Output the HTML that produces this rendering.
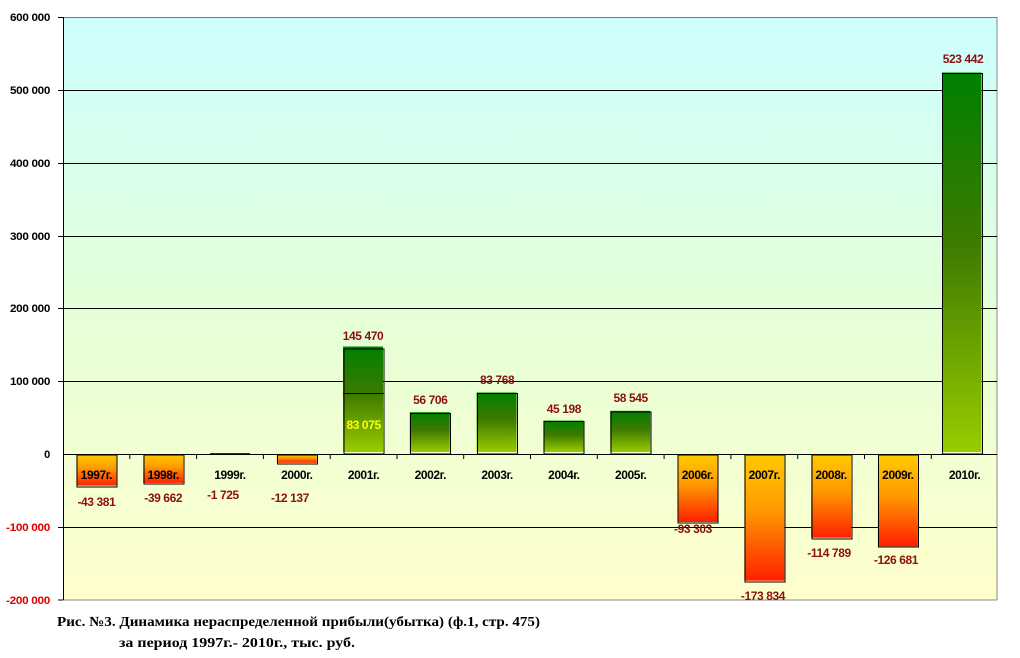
<!DOCTYPE html>
<html><head><meta charset="utf-8"><style>
body{margin:0;background:#fff;width:1020px;height:658px;overflow:hidden}
svg{display:block}
.t{font-family:"Liberation Sans",sans-serif;font-weight:bold;font-size:12px;letter-spacing:-0.4px}
.yr{fill:#000;text-anchor:middle}
.v{fill:#8b1010;text-anchor:middle}
.ax{font-family:"Liberation Sans",sans-serif;font-weight:bold;font-size:11px;text-anchor:end;letter-spacing:-0.3px}
.cap{font-family:"Liberation Serif",serif;font-weight:bold;font-size:14px;fill:#000}
</style></head><body>
<svg width="1020" height="658" xmlns="http://www.w3.org/2000/svg">
<defs>
<linearGradient id="bg" x1="0" y1="0" x2="0" y2="1">
<stop offset="0" stop-color="#ccffff"/><stop offset="0.5" stop-color="#e4ffd8"/><stop offset="1" stop-color="#ffffcc"/>
</linearGradient>
<linearGradient id="gr" x1="0" y1="0" x2="0" y2="1">
<stop offset="0" stop-color="#008000"/><stop offset="0.45" stop-color="#3d7a00"/><stop offset="1" stop-color="#99cc00"/>
</linearGradient>
<linearGradient id="rd" x1="0" y1="0" x2="0" y2="1">
<stop offset="0" stop-color="#ffcc00"/><stop offset="0.45" stop-color="#ff9900"/><stop offset="1" stop-color="#ff2000"/>
</linearGradient>
</defs>
<rect x="63" y="17" width="934" height="583" fill="url(#bg)"/>
<line x1="997" y1="17" x2="997" y2="600" stroke="#888" stroke-width="1"/>
<line x1="63" y1="17.5" x2="997" y2="17.5" stroke="#777" stroke-width="1"/>
<line x1="63" y1="600" x2="997" y2="600" stroke="#888" stroke-width="1"/>
<g stroke="#000" stroke-width="1">
<line x1="58" y1="90.5" x2="997" y2="90.5"/>
<line x1="58" y1="163.5" x2="997" y2="163.5"/>
<line x1="58" y1="236.5" x2="997" y2="236.5"/>
<line x1="58" y1="308.5" x2="997" y2="308.5"/>
<line x1="58" y1="381.5" x2="997" y2="381.5"/>
<line x1="58" y1="527.5" x2="997" y2="527.5"/>
<line x1="58" y1="17.5" x2="63" y2="17.5"/>
<line x1="58" y1="600" x2="63" y2="600"/>
<line x1="63.5" y1="17" x2="63.5" y2="600"/>
</g>
<g class="ax">
<text x="50" y="21" fill="#000" textLength="40" lengthAdjust="spacingAndGlyphs">600 000</text>
<text x="50" y="94" fill="#000" textLength="40" lengthAdjust="spacingAndGlyphs">500 000</text>
<text x="50" y="167" fill="#000" textLength="40" lengthAdjust="spacingAndGlyphs">400 000</text>
<text x="50" y="240" fill="#000" textLength="40" lengthAdjust="spacingAndGlyphs">300 000</text>
<text x="50" y="312" fill="#000" textLength="40" lengthAdjust="spacingAndGlyphs">200 000</text>
<text x="50" y="385" fill="#000" textLength="40" lengthAdjust="spacingAndGlyphs">100 000</text>
<text x="50" y="458" fill="#000">0</text>
<text x="50" y="531" fill="#e00000" textLength="44" lengthAdjust="spacingAndGlyphs">-100 000</text>
<text x="50" y="604" fill="#e00000" textLength="44" lengthAdjust="spacingAndGlyphs">-200 000</text>
</g>
<g>
<rect x="76.4" y="454" width="40" height="31.6" fill="url(#rd)"/><rect x="77" y="455" width="40" height="32" fill="none" stroke="#000"/>
<rect x="143.2" y="454" width="40" height="28.9" fill="url(#rd)"/><rect x="144" y="455" width="40" height="29" fill="none" stroke="#000"/>
<rect x="210" y="453" width="40" height="2" fill="#333"/>
<rect x="276.8" y="454" width="40" height="8.8" fill="url(#rd)"/><rect x="277.5" y="455" width="40" height="9" fill="none" stroke="#000"/>
<rect x="677.5" y="454" width="40" height="68" fill="url(#rd)"/><rect x="678" y="455" width="40" height="68" fill="none" stroke="#000"/>
<rect x="744.3" y="454" width="40" height="126.7" fill="url(#rd)"/><rect x="745" y="455" width="40" height="127" fill="none" stroke="#000"/>
<rect x="811.1" y="454" width="40" height="83.7" fill="url(#rd)"/><rect x="812" y="455" width="40" height="84" fill="none" stroke="#000"/>
<rect x="877.9" y="454" width="40" height="92.3" fill="url(#rd)"/><rect x="878.5" y="455" width="40" height="92" fill="none" stroke="#000"/>
</g>
<g>
<rect x="343" y="346.5" width="40" height="105.5" fill="url(#gr)"/><rect x="344" y="349" width="40" height="105" fill="none" stroke="#000"/>
<line x1="343" y1="393.5" x2="384" y2="393.5" stroke="#000"/>
<rect x="409.8" y="412.2" width="40" height="39.8" fill="url(#gr)"/><rect x="410.5" y="413.5" width="40" height="40.5" fill="none" stroke="#000"/>
<rect x="476.6" y="392.5" width="40" height="59.5" fill="url(#gr)"/><rect x="477.5" y="393.5" width="40" height="60.5" fill="none" stroke="#000"/>
<rect x="543.4" y="420.6" width="40" height="31.4" fill="url(#gr)"/><rect x="544" y="421.5" width="40" height="32.5" fill="none" stroke="#000"/>
<rect x="610.2" y="410.8" width="40" height="41.2" fill="url(#gr)"/><rect x="611" y="412" width="40" height="42" fill="none" stroke="#000"/>
<rect x="942" y="72.5" width="39.5" height="379.5" fill="url(#gr)"/><rect x="942.5" y="73.5" width="40" height="380.5" fill="none" stroke="#000"/>
</g>
<line x1="63" y1="454.5" x2="997" y2="454.5" stroke="#000" stroke-width="1"/>
<g stroke="#000">
<line x1="129.8" y1="454" x2="129.8" y2="459"/><line x1="196.6" y1="454" x2="196.6" y2="459"/><line x1="263.4" y1="454" x2="263.4" y2="459"/><line x1="330.2" y1="454" x2="330.2" y2="459"/><line x1="397" y1="454" x2="397" y2="459"/><line x1="463.7" y1="454" x2="463.7" y2="459"/><line x1="530.5" y1="454" x2="530.5" y2="459"/><line x1="597.3" y1="454" x2="597.3" y2="459"/><line x1="664.1" y1="454" x2="664.1" y2="459"/><line x1="730.9" y1="454" x2="730.9" y2="459"/><line x1="797.7" y1="454" x2="797.7" y2="459"/><line x1="864.5" y1="454" x2="864.5" y2="459"/><line x1="931.3" y1="454" x2="931.3" y2="459"/>
</g>
<g class="t yr">
<text x="96.4" y="479">1997г.</text><text x="163.2" y="479">1998г.</text><text x="230" y="479">1999г.</text><text x="296.8" y="479">2000г.</text><text x="363.6" y="479">2001г.</text><text x="430.3" y="479">2002г.</text><text x="497.1" y="479">2003г.</text><text x="563.9" y="479">2004г.</text><text x="630.7" y="479">2005г.</text><text x="697.5" y="479">2006г.</text><text x="764.3" y="479">2007г.</text><text x="831.1" y="479">2008г.</text><text x="897.9" y="479">2009г.</text><text x="964.6" y="479">2010г.</text>
</g>
<g class="t v">
<text x="96.4" y="506">-43 381</text><text x="163.2" y="502">-39 662</text><text x="223" y="499">-1 725</text><text x="290" y="502">-12 137</text>
<text x="363" y="340">145 470</text><text x="430.3" y="404">56 706</text><text x="497.1" y="384">83 768</text><text x="563.9" y="413">45 198</text><text x="630.7" y="402">58 545</text>
<text x="693" y="533">-93 303</text><text x="763" y="600">-173 834</text><text x="829" y="557">-114 789</text><text x="896" y="564">-126 681</text>
<text x="963" y="63">523 442</text>
<text x="363.6" y="429" fill="#ffff00">83 075</text>
</g>
<text class="cap" x="57" y="626" textLength="483" lengthAdjust="spacingAndGlyphs">Рис. №3. Динамика нераспределенной прибыли(убытка) (ф.1, стр. 475)</text>
<text class="cap" x="119" y="647" textLength="236" lengthAdjust="spacingAndGlyphs">за период 1997г.- 2010г., тыс. руб.</text>
</svg>
</body></html>
